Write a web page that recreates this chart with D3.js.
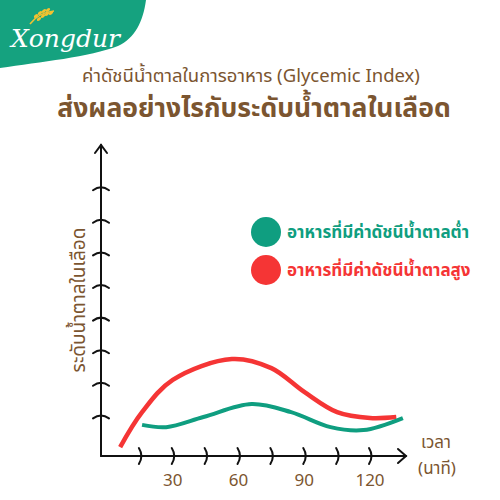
<!DOCTYPE html>
<meta charset="utf-8">
<style>
body { margin: 0; background: #fff; }
text { font-family: "Noto Sans Thai", "Noto Sans", "DejaVu Sans", sans-serif; }
</style>
<svg width="500" height="500"></svg>
<script src="https://d3js.org/d3.v7.min.js"></script>
<script>
// minutes after eating vs blood sugar level (arbitrary units)
var lowTime = [16, 27, 44, 66, 84, 102, 117, 135];
var lowLevel = [0.74, 0.67, 0.98, 1.38, 1.13, 0.67, 0.58, 0.95];
var highTime = [6, 16, 30, 57, 75, 90, 105, 120, 132];
var highLevel = [0.06, 1.13, 2.12, 2.76, 2.48, 1.75, 1.13, 0.95, 0.98];
var xTicks = [15, 30, 45, 60, 75, 90, 105, 120];
var xLabels = [30, 60, 90, 120];
var yTicks = [1, 2, 3, 4, 5, 6, 7, 8];
var legendNames = ["อาหารที่มีค่าดัชนีน้ำตาลต่ำ", "อาหารที่มีค่าดัชนีน้ำตาลสูง"];

var brown = "#7b5530",
    green = "#0f9e80",
    red = "#f53535";

var svg = d3.select("svg");

// logo band
svg.append("path")
    .attr("d", "M0,0 L146,0 C143,22 135,38 118,46 C90,57 40,62 0,68 Z")
    .attr("fill", "#15a27f");
svg.append("text")
    .attr("x", 11).attr("y", 47)
    .attr("fill", "#fff")
    .attr("font-size", 25)
    .attr("font-style", "italic")
    .style("font-family", "'DejaVu Serif', serif")
    .text("Xongdur");
// rice stalk
svg.append("path")
    .attr("d", "M30,24 C36,16 44,12 54,11")
    .attr("fill", "none").attr("stroke", "#f2c230").attr("stroke-width", 1.5);
var grains = [[36, 16], [40, 13], [44, 11], [48, 10], [39, 19], [43, 16], [47, 14], [51, 13]];
svg.selectAll(".grain")
    .data(grains)
    .enter().append("ellipse")
    .attr("cx", function(d) { return d[0]; })
    .attr("cy", function(d) { return d[1]; })
    .attr("rx", 2.4).attr("ry", 1.4)
    .attr("transform", function(d) { return "rotate(-35," + d[0] + "," + d[1] + ")"; })
    .attr("fill", "#f2c230");

// titles
svg.append("text")
    .attr("x", 251).attr("y", 82)
    .attr("text-anchor", "middle")
    .attr("fill", brown)
    .attr("font-size", 18.5)
    .text("ค่าดัชนีน้ำตาลในการอาหาร (Glycemic Index)");
svg.append("text")
    .attr("x", 254).attr("y", 117)
    .attr("text-anchor", "middle")
    .attr("fill", brown)
    .attr("font-size", 26.5)
    .attr("font-weight", "bold")
    .text("ส่งผลอย่างไรกับระดับน้ำตาลในเลือด");

var x = d3.scaleLinear().domain([0, 120]).range([107, 370]);
var y = d3.scaleLinear().domain([0, 8]).range([449, 188.2]);
var x0 = 101, yAxis = 456;

var axes = svg.append("g")
    .attr("fill", "none")
    .attr("stroke", "#111")
    .attr("stroke-width", 2)
    .attr("stroke-linecap", "round");

axes.append("path").attr("d", "M" + x0 + "," + yAxis + "V145");
axes.append("path").attr("d", "M" + (x0 - 6) + ",153 L" + x0 + ",145 L" + (x0 + 6) + ",153");
axes.append("path").attr("d", "M" + x0 + "," + yAxis + "H406");
axes.append("path").attr("d", "M398," + (yAxis - 7) + " L406," + yAxis + " L398," + (yAxis + 7));

axes.selectAll(".yt")
    .data(yTicks)
    .enter().append("path")
    .attr("d", function(d) {
      var yy = y(d);
      return "M" + (x0 - 8) + "," + (yy + 2) + " Q" + x0 + "," + (yy - 4) + " " + (x0 + 8) + "," + (yy + 2);
    });

axes.selectAll(".xt")
    .data(xTicks)
    .enter().append("path")
    .attr("d", function(d) {
      var xx = x(d);
      return "M" + (xx - 1) + "," + (yAxis - 8) + " Q" + (xx + 4) + "," + yAxis + " " + (xx - 1) + "," + (yAxis + 8);
    });

svg.selectAll(".xl")
    .data(xLabels)
    .enter().append("text")
    .attr("x", function(d) { return x(d); })
    .attr("y", 486)
    .attr("text-anchor", "middle")
    .attr("fill", brown)
    .attr("font-size", 17)
    .text(function(d) { return d; });

svg.append("text")
    .attr("x", 436).attr("y", 448)
    .attr("text-anchor", "middle")
    .attr("fill", brown).attr("font-size", 17)
    .text("เวลา");
svg.append("text")
    .attr("x", 437).attr("y", 474)
    .attr("text-anchor", "middle")
    .attr("fill", brown).attr("font-size", 17)
    .text("(นาที)");

svg.append("text")
    .attr("transform", "translate(85,300) rotate(-90)")
    .attr("text-anchor", "middle")
    .attr("fill", brown).attr("font-size", 19)
    .text("ระดับน้ำตาลในเลือด");

var line = d3.line()
    .x(function(d) { return x(d[0]); })
    .y(function(d) { return y(d[1]); })
    .curve(d3.curveCatmullRom);

svg.append("path")
    .datum(d3.zip(highTime, highLevel))
    .attr("d", line)
    .attr("fill", "none")
    .attr("stroke", red)
    .attr("stroke-width", 4.5);

svg.append("path")
    .datum(d3.zip(lowTime, lowLevel))
    .attr("d", line)
    .attr("fill", "none")
    .attr("stroke", green)
    .attr("stroke-width", 4);

var legend = svg.selectAll(".lg")
    .data(legendNames)
    .enter().append("g")
    .attr("transform", function(d, i) { return "translate(266," + (232 + i * 38) + ")"; });
legend.append("circle")
    .attr("r", 15)
    .attr("fill", function(d, i) { return i ? red : green; });
legend.append("text")
    .attr("x", 21).attr("y", 6)
    .attr("fill", function(d, i) { return i ? red : green; })
    .attr("font-size", 17)
    .attr("font-weight", "bold")
    .text(function(d) { return d; });
</script>
